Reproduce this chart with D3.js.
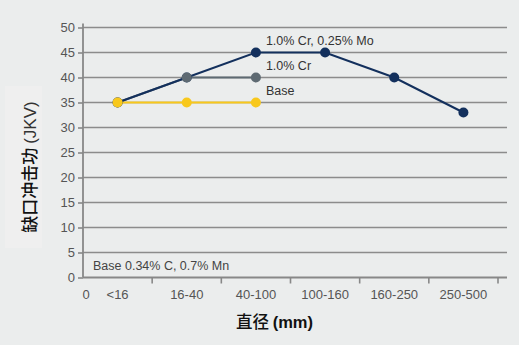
<!DOCTYPE html>
<html>
<head>
<meta charset="utf-8">
<script src="https://cdn.jsdelivr.net/npm/d3@7"></script>
<style>
  html, body { margin: 0; padding: 0; background: #fff; }
  svg { display: block; }
</style>
</head>
<body>
<script>
// Diameter classes and notch impact energy per steel grade
const categories = ["<16", "16-40", "40-100", "100-160", "160-250", "250-500"];
const crMoValues = [35, 40, 45, 45, 40, 33];
const crValues = [35, 40, 40];
const baseValues = [35, 35, 35];
const yTicks = [0, 5, 10, 15, 20, 25, 30, 35, 40, 45, 50];
const seriesNames = ["1.0% Cr, 0.25% Mo", "1.0% Cr", "Base"];

const W = 522, H = 349;
const svg = d3.select("body").append("svg").attr("width", W).attr("height", H);

// page background with white outer margin on right/bottom
svg.append("rect").attr("width", W).attr("height", H).attr("fill", "#ffffff");
svg.append("rect").attr("x", 0).attr("y", 0).attr("width", 519).attr("height", 345).attr("fill", "#ebeded");
// soft panel behind the y title
svg.append("rect").attr("x", 5).attr("y", 86).attr("width", 37).attr("height", 162).attr("fill", "#efefef");

const x = d3.scaleBand().domain(categories).range([83, 498]);
const y = d3.scaleLinear().domain([0, 50]).range([277.5, 27.5]);
const gridRight = 507;
const font = "Liberation Sans, Arial, sans-serif";

// horizontal grid
svg.append("g").selectAll("line").data(yTicks.filter(d => d > 0)).join("line")
  .attr("x1", x.range()[0]).attr("x2", gridRight)
  .attr("y1", d => y(d)).attr("y2", d => y(d))
  .attr("stroke", "#8c8c8c").attr("stroke-width", 1.6);

// y axis
const yAxis = svg.append("g").attr("transform", `translate(${x.range()[0]},0)`)
  .call(d3.axisLeft(y).tickValues(yTicks).tickSize(5).tickPadding(3));
yAxis.select(".domain").attr("stroke", "#888").attr("stroke-width", 1.8)
  .attr("d", `M0,${y(50) - 4}V${y(0)}`);
yAxis.selectAll(".tick line").attr("stroke", "#888").attr("stroke-width", 1.6);
yAxis.selectAll(".tick text").attr("fill", "#555").attr("font-size", 13).attr("font-family", font);

// x axis with boundaries between classes
const bounds = categories.map(c => x(c)).concat([x.range()[1]]);
const xAxisG = svg.append("g").attr("transform", `translate(0,${y(0)})`);
xAxisG.append("line").attr("x1", x.range()[0]).attr("x2", gridRight)
  .attr("stroke", "#888").attr("stroke-width", 1.8);
xAxisG.selectAll("line.tk").data(bounds.slice(1)).join("line").attr("class", "tk")
  .attr("x1", d => d).attr("x2", d => d).attr("y1", 0).attr("y2", 6)
  .attr("stroke", "#888").attr("stroke-width", 1.6);
xAxisG.selectAll("text.cat").data(categories).join("text").attr("class", "cat")
  .attr("x", d => x(d) + x.bandwidth() / 2).attr("y", 21)
  .attr("text-anchor", "middle").attr("fill", "#555").attr("font-size", 13).attr("font-family", font)
  .text(d => d);
xAxisG.append("text").attr("x", x.range()[0] + 3).attr("y", 21)
  .attr("text-anchor", "middle").attr("fill", "#555").attr("font-size", 13).attr("font-family", font)
  .text("0");

// series
const cx = i => x(categories[i]) + x.bandwidth() / 2;
const line = d3.line().x((d, i) => cx(i)).y(d => y(d));
const base = { name: seriesNames[2], values: baseValues, color: "#f8c81c" };
const cr = { name: seriesNames[1], values: crValues, color: "#5e6a72" };
const crMo = { name: seriesNames[0], values: crMoValues, color: "#13305d" };

// lines: Cr underneath, then Base, then Cr-Mo
[cr, base, crMo].forEach(s => {
  svg.append("path").datum(s.values).attr("d", line)
    .attr("fill", "none").attr("stroke", s.color).attr("stroke-width", 2);
});
// markers: Cr-Mo underneath, then Cr, then Base on top
[crMo, cr, base].forEach(s => {
  svg.append("g").selectAll("circle").data(s.values).join("circle")
    .attr("cx", (d, i) => cx(i)).attr("cy", d => y(d)).attr("r", 5)
    .attr("fill", s.color);
});

// series labels
const labelX = cx(2) + 10;
[[seriesNames[0], 45], [seriesNames[1], 40], [seriesNames[2], 35]].forEach(([t, v]) => {
  svg.append("text").attr("x", labelX).attr("y", y(v) - 8)
    .attr("fill", "#333").attr("font-size", 12.5).attr("font-family", font).text(t);
});

// composition note
svg.append("text").attr("x", 93).attr("y", 269.5)
  .attr("fill", "#444").attr("font-size", 12.5).attr("font-family", font)
  .text("Base 0.34% C, 0.7% Mn");

// axis titles
const yTitle = svg.append("text").attr("transform", "translate(36,167) rotate(-90)")
  .attr("text-anchor", "middle").attr("fill", "#111").attr("font-size", 17);
yTitle.append("tspan").attr("font-family", "Noto Sans CJK SC, sans-serif").attr("font-weight", 500)
  .text("缺口冲击功 ");
yTitle.append("tspan").attr("font-family", font).attr("fill", "#333").text("(JKV)");

const xTitle = svg.append("text").attr("x", 274.5).attr("y", 328)
  .attr("text-anchor", "middle").attr("fill", "#111").attr("font-size", 16.5);
xTitle.append("tspan").attr("font-family", "Noto Sans CJK SC, sans-serif").attr("font-weight", 500)
  .text("直径 ");
xTitle.append("tspan").attr("font-family", font).attr("font-weight", "bold").text("(mm)");
</script>
</body>
</html>
